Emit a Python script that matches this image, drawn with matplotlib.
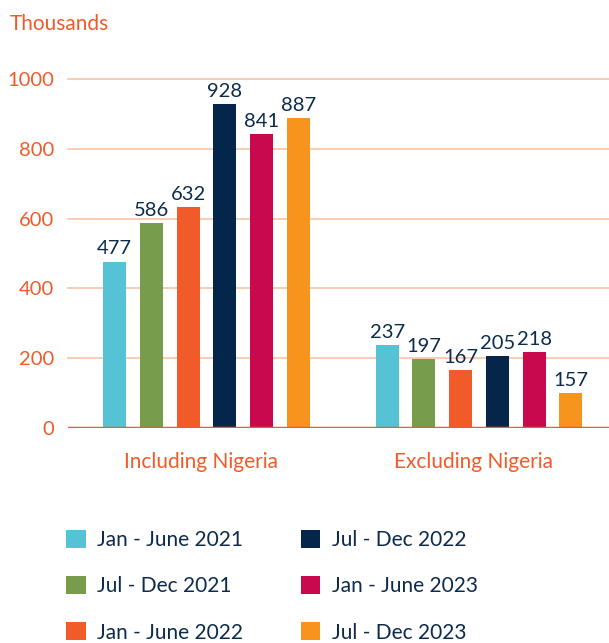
import numpy as np
import matplotlib.pyplot as plt
from matplotlib.patches import Patch

plt.rcParams["font.family"] = ["Lato", "DejaVu Sans"]

groups = ["Including Nigeria", "Excluding Nigeria"]
periods = ["Jan - June 2021", "Jul - Dec 2021", "Jan - June 2022",
           "Jul - Dec 2022", "Jan - June 2023", "Jul - Dec 2023"]
colors = ["#56C2D6", "#769C4C", "#F15A29", "#04264A", "#C8094D", "#F7941D"]

# printed values
incl_labels = [477, 586, 632, 928, 841, 887]
excl_labels = [237, 197, 167, 205, 218, 157]
# bar heights as drawn in the source (last bar is drawn shorter than its label)
incl_heights = [477, 586, 632, 928, 841, 887]
excl_heights = [237, 197, 167, 205, 218, 101]

yticks = [0, 200, 400, 600, 800, 1000]

ORANGE = "#F15A29"
NAVY = "#0D2B4C"
GRID = "#FBC2A6"

W, H = 609, 643
fig = plt.figure(figsize=(W / 100, H / 100), dpi=100)
ax = fig.add_axes([68 / W, (H - 428) / H, (W - 68) / W, (428 - 79) / H])

step = 0.1347
width = 0.0844
offsets = (np.arange(len(periods)) - 2.5) * step
heights = [incl_heights, excl_heights]
labels = [incl_labels, excl_labels]

for g in range(len(groups)):
    x = g + offsets
    ax.bar(x, heights[g], width=width, color=colors, zorder=2)
    for xi, h, lab in zip(x, heights[g], labels[g]):
        ax.text(xi, h + 12, str(lab), ha="center", va="bottom",
                fontsize=14.5, color=NAVY, zorder=4)
    ax.text(g - 0.02, -97, groups[g], ha="center", va="center",
            fontsize=15, color=ORANGE)

for t in yticks[1:]:
    ax.axhline(t, color=GRID, lw=1.2, zorder=0, clip_on=False)
ax.axhline(0, color=ORANGE, lw=2.5, zorder=3)

ax.set_xlim(-0.508, 1.477)
ax.set_ylim(0, 1000)
ax.set_yticks(yticks)
ax.set_yticklabels([str(t) for t in yticks], fontsize=14.5, color=ORANGE)
ax.tick_params(axis="y", length=0, pad=10)
ax.set_xticks([])
for s in ax.spines.values():
    s.set_visible(False)

fig.text(10 / W, 1 - 24 / H, "Thousands", ha="left", va="center",
         fontsize=15, color=ORANGE)

handles = [Patch(facecolor=c, edgecolor="none") for c in colors]
leg = fig.legend(handles, periods, loc="upper left",
                 bbox_to_anchor=(66 / W, 1 - 530 / H), ncol=2,
                 frameon=False, fontsize=15, handlelength=0.95,
                 handleheight=0.95, handletextpad=0.55, labelspacing=1.25,
                 columnspacing=2.75, borderpad=0, borderaxespad=0)
for t in leg.get_texts():
    t.set_color(NAVY)

fig.savefig("out.png", dpi=100)
